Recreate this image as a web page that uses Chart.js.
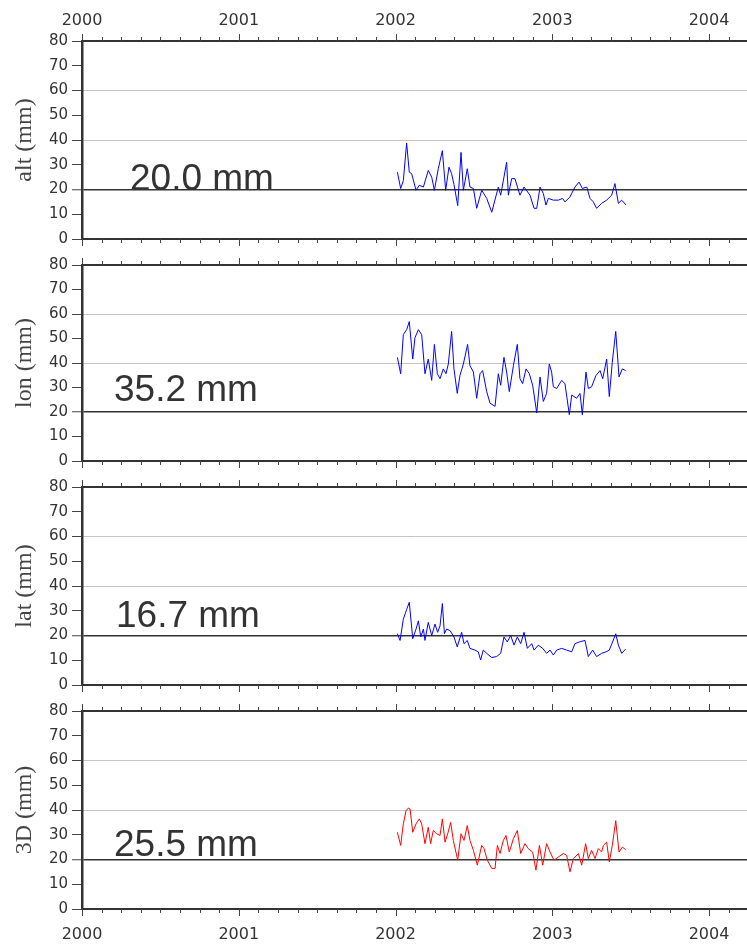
<!DOCTYPE html>
<html>
<head>
<meta charset="utf-8">
<script src="https://cdn.jsdelivr.net/npm/chart.js@4/dist/chart.umd.min.js"></script>
<style>
html,body{margin:0;padding:0;background:#fff;}
#wrap{position:relative;width:747px;height:945px;overflow:hidden;}
canvas{position:absolute;left:0;}
</style>
</head>
<body>
<div id="wrap">
<canvas id="p0"></canvas>
<canvas id="p1"></canvas>
<canvas id="p2"></canvas>
<canvas id="p3"></canvas>
</div>
<script>
// x ticks (years) and panel texts
var yearTicks = [2000, 2001, 2002, 2003, 2004];
var panelNames = ["alt (mm)", "lon (mm)", "lat (mm)", "3D (mm)"];
var rmsLabels = ["20.0 mm", "35.2 mm", "16.7 mm", "25.5 mm"];

// alt
var altYears = [2002.012,2002.033,2002.050,2002.071,2002.088,2002.103,2002.131,2002.152,2002.178,2002.209,2002.231,2002.248,2002.273,2002.299,2002.320,2002.341,2002.358,2002.373,2002.397,2002.418,2002.433,2002.458,2002.475,2002.497,2002.518,2002.550,2002.582,2002.614,2002.656,2002.671,2002.709,2002.720,2002.741,2002.762,2002.794,2002.820,2002.858,2002.884,2002.901,2002.922,2002.943,2002.960,2002.975,2003.007,2003.039,2003.066,2003.081,2003.113,2003.145,2003.171,2003.192,2003.220,2003.241,2003.262,2003.283,2003.315,2003.347,2003.379,2003.400,2003.422,2003.443,2003.471];
var altValues = [27.0,20.4,23.6,38.8,27.0,26.4,19.7,21.7,21.0,27.7,25.0,19.7,28.4,35.7,19.7,29.0,26.4,22.0,13.5,35.0,19.7,28.4,21.0,20.4,12.4,19.7,16.4,10.8,21.0,17.7,31.0,17.7,24.4,24.4,17.7,21.0,17.7,12.4,12.4,21.0,18.4,13.7,16.4,15.7,15.7,16.4,15.0,17.0,21.0,23.0,20.4,21.0,16.4,15.0,12.4,14.4,15.7,17.7,22.4,14.4,15.7,13.7];

// lon
var lonYears = [2002.012,2002.033,2002.050,2002.071,2002.088,2002.110,2002.124,2002.146,2002.167,2002.188,2002.209,2002.231,2002.248,2002.267,2002.284,2002.305,2002.322,2002.337,2002.358,2002.373,2002.394,2002.411,2002.433,2002.460,2002.475,2002.497,2002.518,2002.539,2002.556,2002.582,2002.603,2002.635,2002.656,2002.671,2002.692,2002.709,2002.726,2002.752,2002.777,2002.794,2002.811,2002.833,2002.854,2002.875,2002.901,2002.922,2002.943,2002.964,2002.981,2002.996,2003.007,2003.028,2003.060,2003.081,2003.109,2003.124,2003.156,2003.177,2003.192,2003.215,2003.230,2003.251,2003.279,2003.305,2003.322,2003.347,2003.364,2003.383,2003.405,2003.426,2003.447,2003.468];
var lonValues = [42.3,35.6,51.6,53.6,56.9,41.6,50.3,53.6,51.6,35.6,41.6,32.9,47.6,35.6,33.6,37.6,35.6,39.6,52.9,37.6,27.6,34.9,39.6,47.6,38.9,36.3,25.6,35.6,36.9,28.3,23.6,22.3,35.6,30.9,42.3,36.3,28.3,38.9,47.6,33.6,31.6,37.6,35.6,30.9,19.6,34.3,24.3,27.6,39.6,36.3,30.3,29.6,32.9,31.6,18.9,26.9,25.6,27.6,18.9,36.3,29.6,30.3,34.9,36.9,33.6,41.6,26.3,40.3,52.9,34.3,37.6,36.9];

// lat
var latYears = [2002.012,2002.029,2002.050,2002.071,2002.088,2002.110,2002.131,2002.146,2002.161,2002.178,2002.188,2002.209,2002.231,2002.252,2002.269,2002.284,2002.299,2002.312,2002.326,2002.348,2002.373,2002.394,2002.422,2002.437,2002.458,2002.475,2002.507,2002.528,2002.543,2002.560,2002.582,2002.614,2002.645,2002.671,2002.692,2002.713,2002.735,2002.756,2002.777,2002.799,2002.820,2002.841,2002.869,2002.884,2002.911,2002.939,2002.964,2002.986,2003.007,2003.028,2003.060,2003.092,2003.124,2003.145,2003.173,2003.209,2003.230,2003.258,2003.283,2003.315,2003.343,2003.364,2003.385,2003.405,2003.422,2003.443,2003.468];
var latValues = [20.7,18.0,26.6,30.5,33.4,18.7,22.6,25.9,19.4,22.6,18.0,25.3,20.0,24.6,21.3,23.9,32.9,20.7,22.6,22.0,19.4,15.4,21.3,16.7,18.0,14.8,14.1,13.4,10.1,14.1,12.8,11.1,11.5,12.8,19.4,17.4,20.0,16.1,19.4,16.7,21.3,14.8,16.7,14.1,16.1,14.8,12.8,14.1,12.1,14.1,14.8,14.1,13.4,16.7,17.4,18.0,11.5,14.1,11.5,12.8,13.4,14.1,17.4,20.7,16.1,12.8,14.5];

// 3D
var d3Years = [2002.012,2002.033,2002.050,2002.067,2002.082,2002.093,2002.110,2002.131,2002.152,2002.167,2002.188,2002.209,2002.224,2002.241,2002.263,2002.284,2002.299,2002.316,2002.333,2002.352,2002.369,2002.397,2002.418,2002.437,2002.458,2002.475,2002.497,2002.522,2002.550,2002.565,2002.586,2002.614,2002.635,2002.650,2002.667,2002.688,2002.705,2002.726,2002.752,2002.777,2002.799,2002.826,2002.847,2002.875,2002.896,2002.918,2002.939,2002.964,2002.986,2003.011,2003.039,2003.071,2003.092,2003.113,2003.135,2003.167,2003.188,2003.213,2003.230,2003.251,2003.273,2003.294,2003.315,2003.326,2003.347,2003.364,2003.383,2003.405,2003.426,2003.447,2003.468];
var d3Values = [31.0,25.7,34.4,39.7,40.8,40.4,31.0,34.4,36.4,34.4,26.4,33.0,26.4,31.7,30.4,29.7,36.4,27.0,30.4,35.0,27.7,19.7,30.4,27.7,33.7,27.7,23.7,17.7,25.7,24.4,19.7,16.4,16.4,25.7,22.4,27.7,29.7,23.0,28.4,31.7,22.4,26.4,24.4,23.0,15.7,25.7,17.7,26.4,23.0,19.7,21.0,22.4,21.7,15.0,20.4,22.4,17.7,26.4,20.4,23.7,20.4,24.4,23.0,25.7,27.0,19.0,25.7,35.7,23.0,25.0,24.0];

var seriesYears = [altYears, lonYears, latYears, d3Years];
var seriesValues = [altValues, lonValues, latValues, d3Values];
var lineColors = ["#0000ff", "#0000ff", "#0000ff", "#ff0000"];

// canvas placement of each panel (px)
var panels = [
    {top: 0,   height: 252, axTop: 41, axBottom: 11, textX: 130, textY: 149},
    {top: 252, height: 222, axTop: 12, axBottom: 11, textX: 114, textY: 136},
    {top: 474, height: 224, axTop: 13, axBottom: 12, textX: 116, textY: 140},
    {top: 698, height: 247, axTop: 11, axBottom: 36, textX: 114, textY: 145}
];

var xMin = 2000, xMax = 2004.2424;
var tickFont = {family: "DejaVu Sans", size: 15};

// short minor / long major tick marks on top and bottom edges
var xTickMarks = {
    id: "xTickMarks",
    afterDraw: function(chart){
        var ctx = chart.ctx, area = chart.chartArea;
        ["x", "x2"].forEach(function(id){
            var s = chart.scales[id];
            var top = s.options.position === "top";
            var y0 = top ? area.top : area.bottom;
            var dir = top ? -1 : 1;
            ctx.save();
            ctx.strokeStyle = "#444";
            ctx.lineWidth = 1;
            s.ticks.forEach(function(t){
                var px = Math.round(s.getPixelForValue(t.value)) + 0.5;
                var len = yearTicks.indexOf(t.value) >= 0 ? 7 : 4;
                ctx.beginPath();
                ctx.moveTo(px, y0);
                ctx.lineTo(px, y0 + dir * len);
                ctx.stroke();
            });
            ctx.restore();
        });
    }
};

// big rms text inside each panel
var rmsText = {
    id: "rmsText",
    afterDraw: function(chart){
        var o = chart.options.plugins.rmsText;
        var ctx = chart.ctx;
        ctx.save();
        ctx.font = "37px 'Liberation Sans', Arial, sans-serif";
        ctx.fillStyle = "#333";
        ctx.textBaseline = "alphabetic";
        ctx.fillText(o.text, o.x, chart.chartArea.top + o.y);
        ctx.restore();
    }
};

function xAxis(pos, showLabels, height){
    return {
        type: "linear",
        position: pos,
        min: xMin,
        max: xMax,
        offset: false,
        grid: {drawOnChartArea: false, drawTicks: true, tickLength: 8, tickColor: "rgba(0,0,0,0)"},
        border: {display: true, color: "#333", width: 2},
        ticks: {
            stepSize: 0.125,
            autoSkip: false,
            maxRotation: 0,
            includeBounds: false,
            padding: pos === "top" ? 3 : 8,
            color: "#333",
            font: {family: "DejaVu Sans", size: 16},
            callback: function(v){ return showLabels && yearTicks.indexOf(v) >= 0 ? String(v) : ""; }
        },
        afterFit: function(scale){ scale.height = height; }
    };
}

function makePanel(i){
    var p = panels[i];
    var canvas = document.getElementById("p" + i);
    canvas.width = 747;
    canvas.height = p.height;
    canvas.style.top = p.top + "px";
    var pts = seriesYears[i].map(function(x, k){ return {x: x, y: seriesValues[i][k]}; });

    new Chart(canvas, {
        type: "line",
        data: {
            datasets: [{
                data: pts,
                xAxisID: "x",
                yAxisID: "y",
                borderColor: lineColors[i],
                borderWidth: 1,
                pointRadius: 0,
                fill: false,
                tension: 0
            }]
        },
        options: {
            responsive: false,
            animation: false,
            layout: {padding: 0},
            plugins: {
                legend: {display: false},
                tooltip: {enabled: false},
                rmsText: {text: rmsLabels[i], x: p.textX, y: p.textY}
            },
            scales: {
                x: xAxis("bottom", i === 3, p.axBottom),
                x2: xAxis("top", i === 0, p.axTop),
                y: {
                    min: 0,
                    max: 80,
                    position: "left",
                    grid: {
                        color: function(c){
                            var v = c.tick.value;
                            if (v === 20) return "#333";
                            if (v === 40 || v === 60) return "#c4c4c4";
                            return "rgba(0,0,0,0)";
                        },
                        lineWidth: function(c){ return c.tick.value === 20 ? 1.5 : 1; },
                        tickColor: "#444",
                        tickLength: 10,
                        tickWidth: 1
                    },
                    border: {display: true, color: "#333", width: 2.5},
                    ticks: {stepSize: 10, autoSkip: false, padding: 4, color: "#333", font: tickFont},
                    title: {
                        display: true,
                        text: panelNames[i],
                        color: "#444",
                        font: {family: "'Liberation Serif', 'Times New Roman', serif", size: 24},
                        padding: {top: 10, bottom: 0}
                    },
                    afterFit: function(scale){ scale.width = 82; }
                }
            }
        },
        plugins: [xTickMarks, rmsText]
    });
}

for (var i = 0; i < 4; i++) makePanel(i);
</script>
</body>
</html>
